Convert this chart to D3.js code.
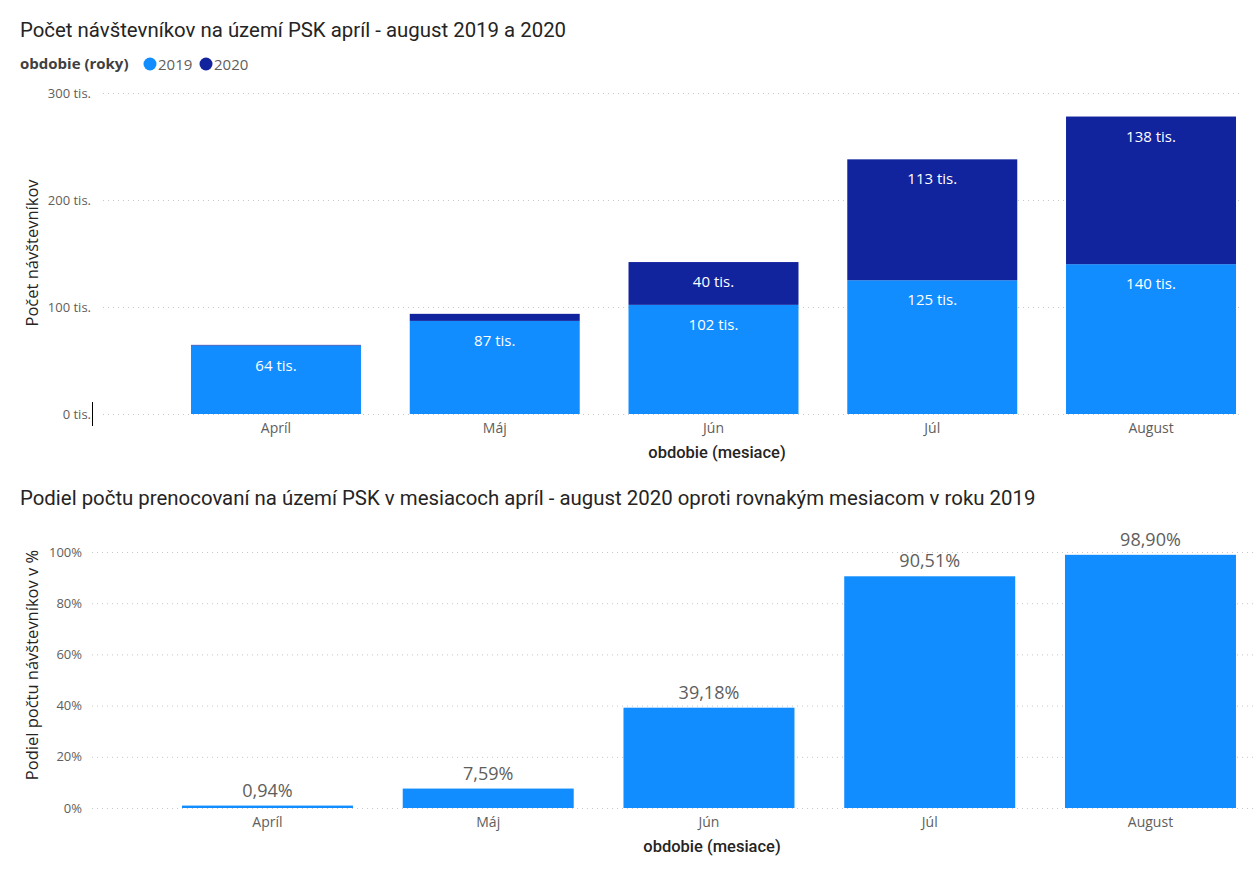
<!DOCTYPE html>
<html>
<head>
<meta charset="utf-8">
<script src="https://cdn.jsdelivr.net/npm/d3@7"></script>
<style>
  body { margin: 0; background: #fff; }
  .grid line { stroke: #C8C6C4; stroke-dasharray: 1,4; }
  .grid .domain { display: none; }
  .tick text { fill: #605E5C; font-family: "Open Sans", sans-serif; font-size: 13px; }
  .xaxis .tick text { font-size: 14px; }
  .title { font-family: Roboto, sans-serif; font-size: 20.4px; fill: #252423; }
  .axis-title { font-family: Roboto, sans-serif; font-size: 16.5px; fill: #252423; font-weight: 500; }
  .y-title { font-family: "Open Sans", sans-serif; font-size: 16.5px; fill: #252423; }
</style>
</head>
<body>
<div id="container-svg"></div>
<script>
// Data
const months = ["Apríl", "Máj", "Jún", "Júl", "August"];
const visitors2019 = [64, 87, 102, 125, 140];      // tis.
const visitors2020 = [0.6, 6.6, 40, 113, 138];     // tis.
const shareValues = [0.94, 7.59, 39.18, 90.51, 98.90]; // %
const visitorTicks = [0, 100, 200, 300];
const shareTicks = [0, 20, 40, 60, 80, 100];
const years = ["2019", "2020"];

const COLOR_2019 = "#118DFF";
const COLOR_2020 = "#12239E";

const width = 1257, height = 876;

const svg = d3.select("div#container-svg")
    .append("svg")
    .attr("width", width)
    .attr("height", height);

svg.append("rect").attr("width", width).attr("height", height).attr("fill", "#fff");

// ---------- Top chart: stacked visitors ----------
svg.append("text").attr("class", "title")
    .attr("x", 20).attr("y", 37)
    .text("Počet návštevníkov na území PSK apríl - august 2019 a 2020");

// Legend
const legend = svg.append("g").attr("transform", "translate(20,64)");
legend.append("text")
    .attr("x", 0).attr("y", 5)
    .style("font-family", "'Open Sans', sans-serif")
    .style("font-size", "15px").style("font-weight", "bold")
    .style("fill", "#404040")
    .text("obdobie (roky)");
const legendItems = legend.selectAll("g.item")
    .data(years)
    .join("g")
    .attr("class", "item")
    .attr("transform", (d, i) => "translate(" + (130 + i * 56) + ",0)");
legendItems.append("circle")
    .attr("r", 6.5)
    .attr("fill", (d, i) => i === 0 ? COLOR_2019 : COLOR_2020);
legendItems.append("text")
    .attr("x", 8).attr("y", 5.5)
    .style("font-family", "'Open Sans', sans-serif")
    .style("font-size", "15px")
    .style("fill", "#605E5C")
    .text(d => d);

const xTop = d3.scaleBand()
    .domain(months)
    .range([166.6, 1260.4])
    .paddingInner(0.223)
    .paddingOuter(0.1115);

const yTop = d3.scaleLinear()
    .domain([0, 300])
    .range([414, 93]);

svg.append("g").attr("class", "grid")
    .attr("transform", "translate(103,0)")
    .call(d3.axisLeft(yTop)
        .tickValues(visitorTicks)
        .tickSize(-(1240 - 103))
        .tickPadding(12)
        .tickFormat(d => d + " tis."));

const stackData = months.map((m, i) => ({ month: m, y2019: visitors2019[i], y2020: visitors2020[i] }));
const stack = d3.stack().keys(["y2019", "y2020"])(stackData);

const topBars = svg.append("g");
stack.forEach((layer, li) => {
    topBars.selectAll("rect.l" + li)
        .data(layer)
        .join("rect")
        .attr("class", "l" + li)
        .attr("x", d => xTop(d.data.month))
        .attr("width", xTop.bandwidth())
        .attr("y", d => yTop(d[1]))
        .attr("height", d => yTop(d[0]) - yTop(d[1]))
        .attr("fill", li === 0 ? COLOR_2019 : COLOR_2020);

    topBars.selectAll("text.l" + li)
        .data(layer.filter(d => yTop(d[0]) - yTop(d[1]) > 30))
        .join("text")
        .attr("class", "l" + li)
        .attr("x", d => xTop(d.data.month) + xTop.bandwidth() / 2)
        .attr("y", d => yTop(d[1]) + 25)
        .attr("text-anchor", "middle")
        .style("font-family", "'Open Sans', sans-serif")
        .style("font-size", "15px")
        .style("fill", "#fff")
        .text(d => Math.round(d[1] - d[0]) + " tis.");
});

svg.append("g").attr("class", "xaxis")
    .attr("transform", "translate(0,414)")
    .call(d3.axisBottom(xTop).tickSize(0).tickPadding(9))
    .call(g => g.select(".domain").remove());

svg.append("text").attr("class", "axis-title")
    .attr("x", 717).attr("y", 458)
    .attr("text-anchor", "middle")
    .text("obdobie (mesiace)");

svg.append("text").attr("class", "y-title")
    .attr("transform", "translate(38,253) rotate(-90)")
    .attr("text-anchor", "middle")
    .text("Počet návštevníkov");

// small cursor mark next to "0 tis."
svg.append("line")
    .attr("x1", 92.5).attr("x2", 92.5)
    .attr("y1", 402).attr("y2", 426)
    .attr("stroke", "#000").attr("stroke-width", 1);

// ---------- Bottom chart: share ----------
svg.append("text").attr("class", "title")
    .attr("x", 20).attr("y", 505)
    .text("Podiel počtu prenocovaní na území PSK v mesiacoch apríl - august 2020 oproti rovnakým mesiacom v roku 2019");

const xBot = d3.scaleBand()
    .domain(months)
    .range([157.1, 1260.85])
    .paddingInner(0.2254)
    .paddingOuter(0.1127);

const yBot = d3.scaleLinear()
    .domain([0, 100])
    .range([808, 552]);

svg.append("g").attr("class", "grid")
    .attr("transform", "translate(92,0)")
    .call(d3.axisLeft(yBot)
        .tickValues(shareTicks)
        .tickSize(-(width - 92))
        .tickPadding(10)
        .tickFormat(d => d + "%"));

const shareData = months.map((m, i) => ({ month: m, value: shareValues[i] }));

svg.append("g").selectAll("rect")
    .data(shareData)
    .join("rect")
    .attr("x", d => xBot(d.month))
    .attr("width", xBot.bandwidth())
    .attr("y", d => yBot(d.value))
    .attr("height", d => yBot(0) - yBot(d.value))
    .attr("fill", COLOR_2019);

svg.append("g").selectAll("text")
    .data(shareData)
    .join("text")
    .attr("x", d => xBot(d.month) + xBot.bandwidth() / 2)
    .attr("y", d => yBot(d.value) - 9)
    .attr("text-anchor", "middle")
    .style("font-family", "'Open Sans', sans-serif")
    .style("font-size", "18px")
    .style("fill", "#605E5C")
    .text(d => d.value.toFixed(2).replace(".", ",") + "%");

svg.append("g").attr("class", "xaxis")
    .attr("transform", "translate(0,808)")
    .call(d3.axisBottom(xBot).tickSize(0).tickPadding(9))
    .call(g => g.select(".domain").remove());

svg.append("text").attr("class", "axis-title")
    .attr("x", 712).attr("y", 852)
    .attr("text-anchor", "middle")
    .text("obdobie (mesiace)");

svg.append("text").attr("class", "y-title")
    .attr("transform", "translate(38,665) rotate(-90)")
    .attr("text-anchor", "middle")
    .text("Podiel počtu návštevníkov v %");
</script>
</body>
</html>
